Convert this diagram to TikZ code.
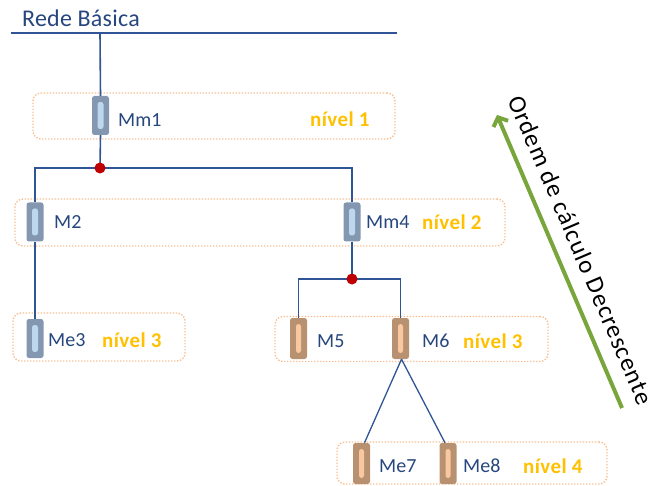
\documentclass[tikz,border=0pt]{standalone}
\usepackage{fontspec}
\setmainfont{Carlito}
\usetikzlibrary{arrows.meta}
\definecolor{wireblue}{RGB}{47,85,151}
\definecolor{txtblue}{RGB}{38,70,125}
\definecolor{boxorange}{RGB}{248,190,145}
\definecolor{grayout}{RGB}{132,151,176}
\definecolor{grayin}{RGB}{189,215,238}
\definecolor{brownout}{RGB}{184,146,112}
\definecolor{brownin}{RGB}{250,200,160}
\definecolor{lvlgold}{RGB}{255,192,0}
\definecolor{dotred}{RGB}{192,0,0}
\definecolor{arrgreen}{RGB}{120,165,60}
\tikzset{
  wire/.style={draw=wireblue, line width=1.6pt},
  lvlbox/.style={draw=boxorange, line width=1.4pt, dash pattern=on 1.4pt off 1.6pt, rounded corners=8pt, inner sep=0pt},
  swgray/.style={rectangle, rounded corners=2.5pt, fill=grayout, minimum width=17pt, minimum height=39pt, inner sep=0pt,
    path picture={\fill[grayin] ([xshift=-3pt,yshift=-13.5pt]path picture bounding box.center) rectangle ([xshift=3pt,yshift=13.5pt]path picture bounding box.center);}},
  swbrown/.style={rectangle, rounded corners=2.5pt, fill=brownout, minimum width=17pt, minimum height=41pt, inner sep=0pt,
    path picture={\fill[brownin] ([xshift=-2.5pt,yshift=-14.5pt]path picture bounding box.center) rectangle ([xshift=2.5pt,yshift=14.5pt]path picture bounding box.center);}},
  lbl/.style={anchor=west, inner sep=0pt, text=txtblue, font=\fontsize{20}{22}\selectfont},
  lvl/.style={anchor=west, inner sep=0pt, text=lvlgold, font=\fontsize{21}{23}\selectfont\bfseries\addfontfeature{LetterSpace=2}},
  jdot/.style={circle, fill=dotred, minimum size=11pt, inner sep=0pt},
}
\begin{document}
\begin{tikzpicture}[x=1pt,y=-1pt]
\useasboundingbox (0,0) rectangle (650,486);
% level boxes
\node[lvlbox, minimum width=362pt, minimum height=46pt] (lvl1) at (214,116) {};
\node[lvlbox, minimum width=490pt, minimum height=47pt] (lvl2) at (260,222.5) {};
\node[lvlbox, minimum width=172pt, minimum height=48pt] (lvl3a) at (99,337) {};
\node[lvlbox, minimum width=273pt, minimum height=45pt] (lvl3b) at (411.5,339) {};
\node[lvlbox, minimum width=270pt, minimum height=42pt] (lvl4) at (472,463) {};
% title and bus
\node[anchor=base west, inner sep=0pt, text=txtblue, font=\fontsize{24}{26}\selectfont\addfontfeature{LetterSpace=1}] (rede) at (22,27) {Rede Básica};
\coordinate (busL) at (11,33);
\coordinate (busR) at (397,33);
\draw[wire] (busL) -- (busR);
% switches
\node[swgray] (Mm1) at (100.5,115.5) {};
\node[swgray] (M2) at (35,222) {};
\node[swgray] (Mm4) at (352,222) {};
\node[swgray] (Me3) at (35,338.5) {};
\node[swbrown] (M5) at (298.5,338.5) {};
\node[swbrown] (M6) at (400.5,338.5) {};
\node[swbrown] (Me7) at (361.5,463.5) {};
\node[swbrown] (Me8) at (448,463.5) {};
% junctions
\coordinate (j1) at (100,168);
\coordinate (j2) at (352,279);
\coordinate (busT) at (100,33);
% wires
\draw[wire] (busT) -- (Mm1.north);
\draw[wire] (Mm1.south) -- (j1);
\draw[wire] (j1) -| (M2.north);
\draw[wire] (j1) -| (Mm4.north);
\draw[wire] (M2.south) -- (Me3.north);
\draw[wire] (Mm4.south) -- (j2);
\draw[wire] (j2) -| (M5.north);
\draw[wire] (j2) -| (M6.north);
\draw[wire, line width=1.3pt] ([xshift=1pt]M6.south) -- ([xshift=3pt]Me7.north);
\draw[wire, line width=1.3pt] ([xshift=1pt]M6.south) -- ([xshift=-3pt]Me8.north);
\node[jdot] (d1) at (j1) {};
\node[jdot] (d2) at (j2) {};
% labels
\node[lbl] (tMm1) at (118,120) {Mm1};
\node[lvl] (tl1) at (310,119) {nível 1};
\node[lbl] (tM2) at (54,222) {M2};
\node[lbl] (tMm4) at (366,222) {Mm4};
\node[lvl] (tl2) at (422,222) {nível 2};
\node[lbl] (tMe3) at (48,340) {Me3};
\node[lvl] (tl3a) at (102,340) {nível 3};
\node[lbl] (tM5) at (317,341) {M5};
\node[lbl] (tM6) at (422,341) {M6};
\node[lvl] (tl3b) at (463,341) {nível 3};
\node[lbl] (tMe7) at (379,466) {Me7};
\node[lbl] (tMe8) at (463,466) {Me8};
\node[lvl] (tl4) at (523,466) {nível 4};
% order arrow
\coordinate (a0) at (622,408);
\coordinate (a1) at (497,115);
\draw[draw=arrgreen, line width=4pt, -{Straight Barb[length=7pt,width=16pt]}] (a0) -- (a1);
\node[rotate=-66.9, inner sep=0pt, font=\fontsize{25}{27}\selectfont\addfontfeature{LetterSpace=4}] (ordem) at (581,250) {Ordem de cálculo Decrescente};
\end{tikzpicture}
\end{document}
